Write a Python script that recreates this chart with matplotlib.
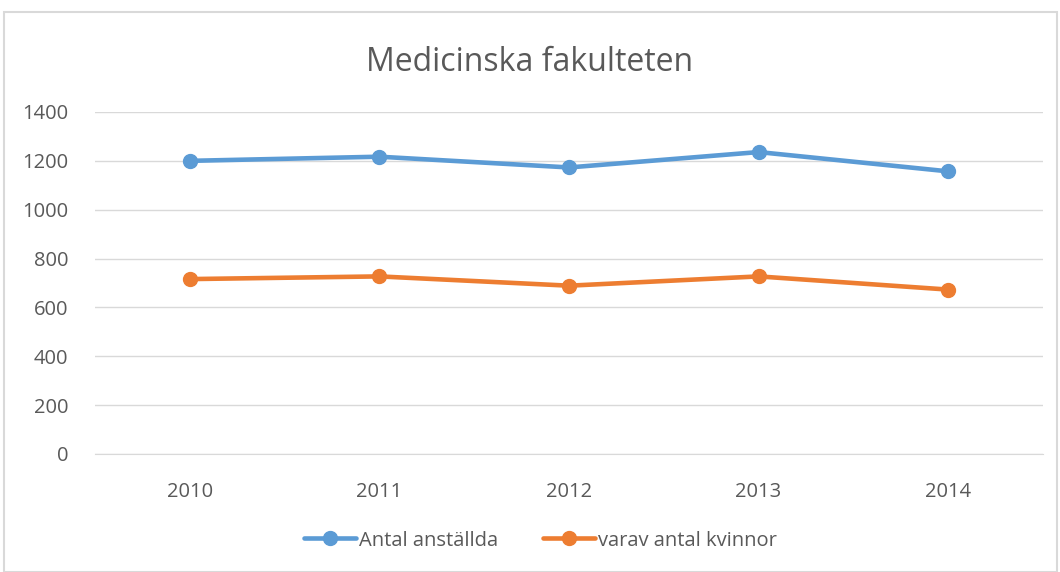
import matplotlib.pyplot as plt
from matplotlib.patches import Rectangle

# Data
years = ["2010", "2011", "2012", "2013", "2014"]
anstallda = [1200, 1217, 1173, 1236, 1157]
kvinnor = [716, 727, 689, 727, 673]

blue = "#5B9BD5"
orange = "#ED7D31"
grey_text = "#595959"

plt.rcParams['font.family'] = ['Open Sans', 'DejaVu Sans']

fig = plt.figure(figsize=(10.6, 5.72), dpi=100)
ax = fig.add_axes([0.0896, 0.2063, 0.8944, 0.5979])

x = range(len(years))
ax.plot(x, anstallda, color=blue, lw=3.3, marker="o", markersize=10,
        label="Antal anställda", solid_capstyle="round", zorder=3)
ax.plot(x, kvinnor, color=orange, lw=3.3, marker="o", markersize=10,
        label="varav antal kvinnor", solid_capstyle="round", zorder=3)

ax.set_xlim(-0.5, len(years) - 0.5)
ax.set_ylim(0, 1400)
ax.set_yticks(range(0, 1401, 200))
ax.set_xticks(list(x))
ax.set_xticklabels(years)
ax.grid(axis="y", color="#D9D9D9", lw=1)
ax.set_axisbelow(True)
for s in ["top", "right", "left"]:
    ax.spines[s].set_visible(False)
ax.spines["bottom"].set_color("#D9D9D9")
ax.tick_params(axis="both", length=0, labelsize=14.5, colors=grey_text)
ax.tick_params(axis="y", pad=19)
ax.tick_params(axis="x", pad=20)

fig.text(0.5, 0.89, "Medicinska fakulteten", ha="center", va="center",
         fontsize=23, color=grey_text)

leg = fig.legend(loc="center", bbox_to_anchor=(0.51, 0.055), ncol=2,
                 frameon=False, fontsize=14.5, handlelength=2.6,
                 columnspacing=2.2, handletextpad=0.15)
for t in leg.get_texts():
    t.set_color(grey_text)

# outer chart border
fig.patches.append(Rectangle((0.004, 0.0), 0.993, 0.979, transform=fig.transFigure,
                             fill=False, edgecolor="#D9D9D9", lw=1.5))

fig.savefig("out.png", dpi=100)
